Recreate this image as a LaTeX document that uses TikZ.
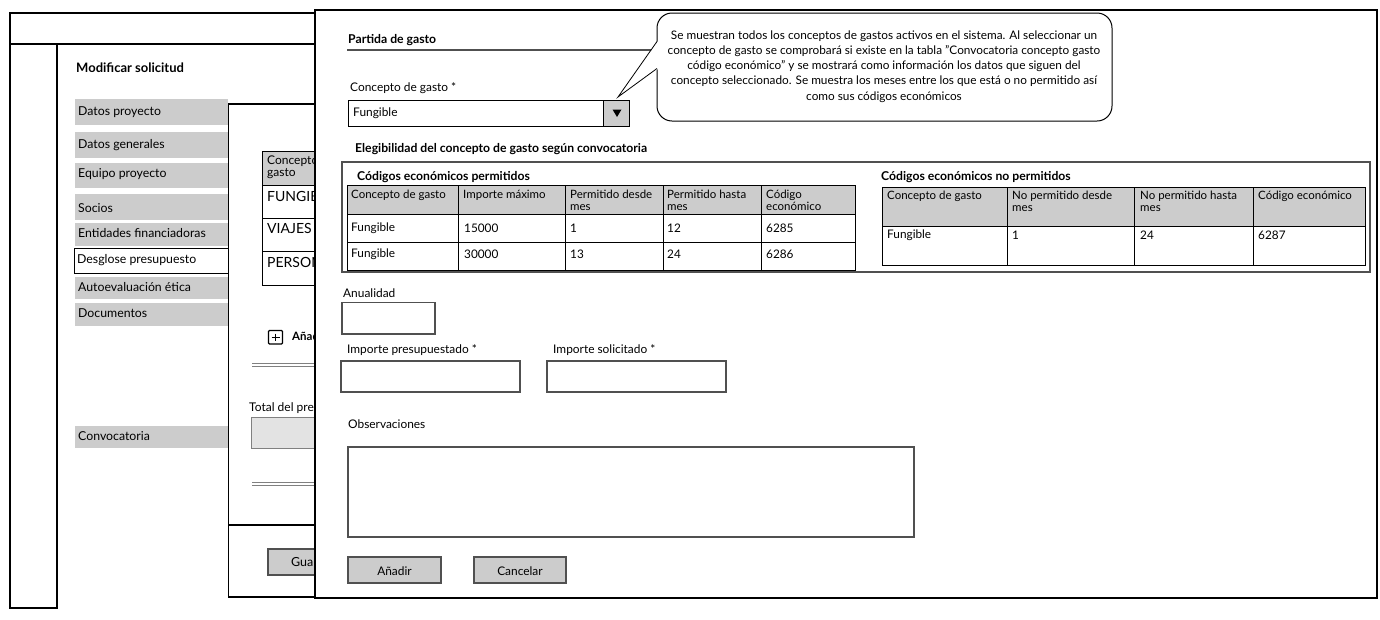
\documentclass[tikz,border=0pt]{standalone}
\usepackage{fontspec}
\setmainfont{Lato}
\definecolor{gfill}{HTML}{CCCCCC}
\definecolor{lfill}{HTML}{E3E3E3}
\definecolor{edge}{HTML}{505050}
\tikzset{
  frame/.style={draw=black, line width=1.1pt},
  inbox/.style={draw=edge, line width=1.2pt, fill=white},
  btn/.style={draw=edge, line width=1.2pt, fill=gfill},
  tbl/.style={draw=black, line width=1pt},
  side/.style={anchor=west, inner sep=0pt, font=\fontsize{12.3}{14}\selectfont},
  lbl/.style={anchor=west, inner sep=0pt, font=\fontsize{11.9}{13}\selectfont},
  bold/.style={anchor=west, inner sep=0pt, font=\bfseries\fontsize{12.2}{13}\selectfont},
  cell/.style={anchor=west, inner sep=0pt, font=\fontsize{11.8}{12}\selectfont},
  hcell/.style={anchor=north west, inner sep=0pt, align=left, font=\fontsize{11.5}{11.5}\selectfont},
  big/.style={anchor=west, inner sep=0pt, font=\fontsize{14}{16}\selectfont},
  ctext/.style={align=center, inner sep=0pt, font=\fontsize{11.8}{15.2}\selectfont}
}
\begin{document}
\begin{tikzpicture}[x=1pt,y=-1pt]
\useasboundingbox (0,0) rectangle (1380,619);
% ---------- background page ----------
\draw[frame] (10,13) rectangle (1000,44);
\draw[frame] (10,44) rectangle (57,608);
\node[anchor=west, inner sep=0pt, font=\bfseries\fontsize{13}{15}\selectfont] (title) at (76,68) {Modificar solicitud};
\fill[gfill] (75,99) rectangle (228,125);
\node[side] (s1) at (78,112) {Datos proyecto};
\fill[gfill] (75,132) rectangle (228,158);
\node[side] (s2) at (78,145) {Datos generales};
\fill[gfill] (75,163) rectangle (228,188);
\node[side] (s3) at (78,174) {Equipo proyecto};
\fill[gfill] (75,194) rectangle (228,220);
\node[side] (s4) at (78,208) {Socios};
\fill[gfill] (75,223) rectangle (228,246);
\node[side] (s5) at (78,233) {Entidades financiadoras};
\draw[black, line width=1pt, fill=white] (74.5,248) rectangle (228,273);
\node[side] (s6) at (77,260) {Desglose presupuesto};
\fill[gfill] (75,277) rectangle (228,299);
\node[side] (s7) at (78,287) {Autoevaluación ética};
\fill[gfill] (75,303) rectangle (228,326);
\node[side] (s8) at (78,313) {Documentos};
\fill[gfill] (75,426) rectangle (228,448);
\node[side] (s9) at (78,436) {Convocatoria};
% ---------- middle page ----------
\draw[frame, fill=white] (228.5,104) rectangle (1000,597);
\draw[frame] (228.5,525) -- (1000,525);
\fill[gfill] (262,151) rectangle (1000,185);
\draw[tbl] (262,151) rectangle (1000,285);
\draw[tbl] (262,185) -- (1000,185);
\draw[tbl] (262,218) -- (1000,218);
\draw[tbl] (262,251) -- (1000,251);
\node[hcell, font=\fontsize{12}{12}\selectfont] (mh) at (267,155) {Concepto de\\gasto};
\node[big] (m1) at (267,196) {FUNGIBLE};
\node[big] (m2) at (267,228) {VIAJES};
\node[big] (m3) at (267,262) {PERSONAL};
\draw[black, line width=1.2pt, rounded corners=1pt] (268.5,330.5) rectangle (282.5,344);
\draw[black, line width=1.2pt] (271.5,337.2) -- (279.5,337.2) (275.5,333.5) -- (275.5,341);
\node[anchor=west, inner sep=0pt, font=\bfseries\fontsize{11.5}{13}\selectfont] (addp) at (292,337) {Añadir partida};
\draw[gray, line width=1pt] (252,363) -- (1000,363) (252,366) -- (1000,366);
\node[lbl, font=\fontsize{12}{14}\selectfont] (total) at (249,408) {Total del presupuesto};
\draw[draw=gray, line width=1pt, fill=lfill] (251,417) rectangle (1000,448);
\draw[gray, line width=1pt] (252,482) -- (1000,482) (252,485) -- (1000,485);
\draw[btn] (268,549) rectangle (1000,575);
\node[lbl, font=\fontsize{12.5}{14}\selectfont] (guard) at (291,562) {Guardar};
% ---------- popup ----------
\draw[frame, fill=white] (315,10) rectangle (1377,598);
\node[bold] (partida) at (348,40.5) {Partida de gasto};
\draw[edge, line width=1.2pt] (347,50) -- (660,50);
\node[lbl] (clbl) at (350,88) {Concepto de gasto *};
\draw[black, line width=1pt, fill=white] (348,100) rectangle (629,126);
\draw[black, line width=1pt, fill=gfill] (603,100) rectangle (629,126);
\node[lbl] (cval) at (353,113.5) {Fungible};
\fill[black] (612.5,109.5) -- (621.5,109.5) -- (617,117) -- cycle;
% callout
\draw[black, line width=1pt, fill=white, rounded corners=15pt] (657,13) rectangle (1112,121);
\fill[white] (658,41) -- (618,97) -- (658,69) -- cycle;
\draw[black, line width=0.8pt] (657,41.5) -- (618,97) -- (657,68.5);
\node[ctext] (note) at (884,66.5) {Se muestran todos los conceptos de gastos activos en el sistema. Al seleccionar un\\concepto de gasto se comprobará si existe en la tabla "Convocatoria concepto gasto\\código económico" y se mostrará como información los datos que siguen del\\concepto seleccionado. Se muestra los meses entre los que está o no permitido así\\como sus códigos económicos};
% elegibilidad
\node[bold] (eleg) at (355,149) {Elegibilidad del concepto de gasto según convocatoria};
\draw[draw=edge, line width=1.3pt] (342,162) rectangle (1370,272);
\node[bold] (perm) at (357,177) {Códigos económicos permitidos};
\fill[gfill] (347,185) rectangle (855,214);
\draw[tbl] (347,185) rectangle (855,270);
\draw[tbl] (347,214) -- (855,214) (347,242) -- (855,242);
\draw[tbl] (458,185) -- (458,270) (565,185) -- (565,270) (663,185) -- (663,270) (761,185) -- (761,270);
\node[hcell] (p1) at (351,190) {Concepto de gasto};
\node[hcell] (p2) at (463,190) {Importe máximo};
\node[hcell] (p3) at (570,190) {Permitido desde\\mes};
\node[hcell] (p4) at (667,190) {Permitido hasta\\mes};
\node[hcell] (p5) at (766,190) {Código\\económico};
\node[cell] (r11) at (351,228) {Fungible};
\node[cell] (r12) at (464,228) {15000};
\node[cell] (r13) at (570,228) {1};
\node[cell] (r14) at (667,228) {12};
\node[cell] (r15) at (766,228) {6285};
\node[cell] (r21) at (351,254) {Fungible};
\node[cell] (r22) at (464,254) {30000};
\node[cell] (r23) at (570,254) {13};
\node[cell] (r24) at (667,254) {24};
\node[cell] (r25) at (766,254) {6286};
\node[bold] (noperm) at (881,177) {Códigos económicos no permitidos};
\fill[gfill] (882,187) rectangle (1365,226);
\draw[tbl] (882,187) rectangle (1365,265);
\draw[tbl] (882,226) -- (1365,226);
\draw[tbl] (1007,187) -- (1007,265) (1134,187) -- (1134,265) (1253,187) -- (1253,265);
\node[hcell] (n1) at (887,191) {Concepto de gasto};
\node[hcell] (n2) at (1012,191) {No permitido desde\\mes};
\node[hcell] (n3) at (1140,191) {No permitido hasta\\mes};
\node[hcell] (n4) at (1258,191) {Código económico};
\node[cell] (q1) at (887,235) {Fungible};
\node[cell] (q2) at (1012,235) {1};
\node[cell] (q3) at (1140,235) {24};
\node[cell] (q4) at (1258,235) {6287};
% form fields
\node[lbl] (anu) at (343,293) {Anualidad};
\draw[inbox] (342,302.5) rectangle (435,334);
\node[lbl] (ipres) at (347,350) {Importe presupuestado *};
\draw[inbox] (341,361) rectangle (520,392);
\node[lbl] (isol) at (553,350) {Importe solicitado *};
\draw[inbox] (547,361) rectangle (726,392);
\node[lbl] (obs) at (348,424) {Observaciones};
\draw[inbox] (348,447) rectangle (914,537);
\draw[btn] (348,557) rectangle (441,583);
\node[inner sep=0pt, font=\fontsize{11.9}{13}\selectfont] (badd) at (394.5,571) {Añadir};
\draw[btn] (474,557) rectangle (566,583);
\node[inner sep=0pt, font=\fontsize{11.9}{13}\selectfont] (bcan) at (520,571) {Cancelar};
\end{tikzpicture}
\end{document}
